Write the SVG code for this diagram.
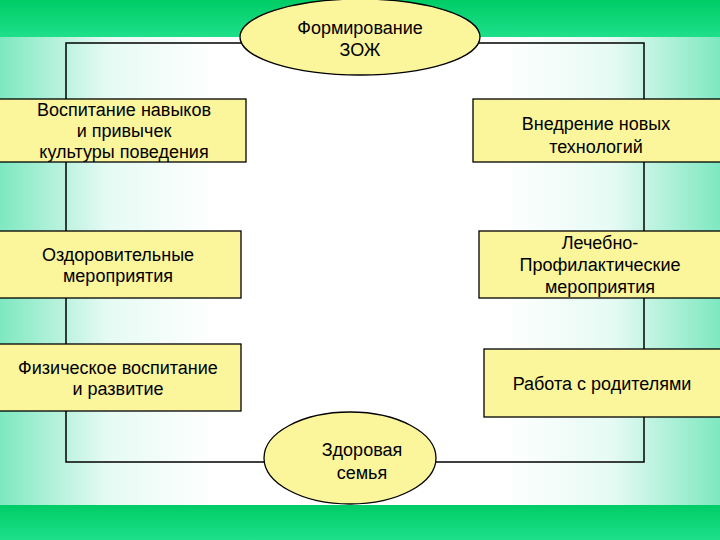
<svg xmlns="http://www.w3.org/2000/svg" width="720" height="540" viewBox="0 0 720 540">
<defs>
<linearGradient id="h" x1="0" y1="0" x2="1" y2="0">
<stop offset="0" stop-color="#7ee8c0"/><stop offset="0.15" stop-color="#e6faf4"/><stop offset="0.3" stop-color="#fff"/><stop offset="0.7" stop-color="#fff"/><stop offset="0.85" stop-color="#e6faf4"/><stop offset="1" stop-color="#7ee8c0"/>
</linearGradient>
<linearGradient id="v" x1="0" y1="0" x2="0" y2="1">
<stop offset="0" stop-color="#00cc66"/><stop offset="1" stop-color="#1ee08a"/>
</linearGradient>
<style>
.b{fill:#fbf59b;stroke:#000;stroke-width:1.3}
.t{font-family:"Liberation Sans",Arial,sans-serif;font-size:18px;fill:#000;text-anchor:middle}
.c{fill:none;stroke:#000;stroke-width:1.5}
</style>
</defs>
<rect width="720" height="540" fill="url(#h)"/>
<rect width="720" height="37" fill="url(#v)"/>
<rect y="505" width="720" height="35" fill="url(#v)"/>
<g id="connectors"><rect class="c" x="66" y="43" width="578" height="419"/></g>
<g id="n1"><ellipse class="b" cx="360" cy="37" rx="120" ry="38"/><text class="t" x="360" y="34">Формирование</text><text class="t" x="360" y="56">ЗОЖ</text></g>
<g id="n2"><rect class="b" x="-1" y="99" width="247" height="63"/><text class="t" x="124" y="116">Воспитание навыков</text><text class="t" x="124" y="137">и привычек</text><text class="t" x="124" y="158">культуры поведения</text></g>
<g id="n3"><rect class="b" x="473" y="99" width="248" height="63"/><text class="t" x="596" y="130">Внедрение новых</text><text class="t" x="596" y="153">технологий</text></g>
<g id="n4"><rect class="b" x="-1" y="231" width="242" height="67"/><text class="t" x="118" y="261">Оздоровительные</text><text class="t" x="118" y="282">мероприятия</text></g>
<g id="n5"><rect class="b" x="479" y="231" width="242" height="67"/><text class="t" x="600" y="249">Лечебно-</text><text class="t" x="600" y="271">Профилактические</text><text class="t" x="600" y="293">мероприятия</text></g>
<g id="n6"><rect class="b" x="-1" y="344" width="242" height="67"/><text class="t" x="118" y="374">Физическое воспитание</text><text class="t" x="118" y="395">и развитие</text></g>
<g id="n7"><rect class="b" x="484" y="349" width="237" height="68"/><text class="t" x="602" y="390">Работа с родителями</text></g>
<g id="n8"><ellipse class="b" cx="350" cy="458" rx="86" ry="46"/><text class="t" x="362" y="456">Здоровая</text><text class="t" x="362" y="479">семья</text></g>
</svg>
